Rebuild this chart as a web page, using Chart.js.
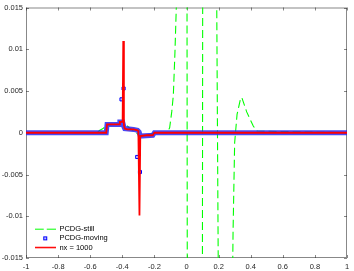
<!DOCTYPE html>
<html>
<head>
<meta charset="utf-8">
<script src="https://cdn.jsdelivr.net/npm/chart.js@4.4.1/dist/chart.umd.min.js"></script>
<style>
  html, body { margin: 0; padding: 0; background: #fff; }
  #wrap { width: 354px; height: 271px; }
</style>
</head>
<body>
<div id="wrap"><canvas id="chart"></canvas></div>
<script>
// reference solution, nx = 1000
const refX = [-1, -0.5, -0.495, -0.42, -0.415, -0.398, -0.394, -0.39, -0.385, -0.37, -0.33, -0.305, -0.3, -0.293, -0.288, -0.25, -0.21, -0.2, 1];
const refY = [0, 0, 0.001, 0.001, 0.0013, 0.0013, 0.011, 0.0009, 0.0005, 0.0004, 0.0004, 0.0003, 0.0002, -0.0099, -0.0004, -0.0003, -0.0003, 0, 0];

// PCDG on moving mesh (dense squares, they read as a thick band)
const movingX = [-1, -0.5, -0.495, -0.42, -0.415, -0.398, -0.39, -0.385, -0.33, -0.305, -0.295, -0.288, -0.21, -0.2, 1];
const movingY = [0, 0, 0.001, 0.001, 0.0013, 0.0013, 0.0007, 0.0005, 0.0004, 0.0003, 0.0001, -0.0004, -0.0003, 0, 0];
// the few squares that sit inside the two spikes
const spikeX = [-0.405, -0.392, -0.307, -0.29];
const spikeY = [0.004, 0.0053, -0.0029, -0.0047];

// PCDG on still mesh, oscillates far past the axis limits
const stillX = [-1, -0.56, -0.54, -0.52, -0.5, -0.45, -0.41, -0.395, -0.38, -0.35, -0.32, -0.29, -0.25, -0.2,
  -0.12, -0.105, -0.092, -0.082, -0.072, -0.062, -0.04, 0, 0.003, 0.005, 0.015, 0.09, 0.099, 0.101, 0.11,
  0.18, 0.187, 0.199, 0.21, 0.25, 0.28, 0.29, 0.3, 0.315, 0.338, 0.345, 0.375, 0.416, 0.44, 1];
const stillY = [0, 0, 0.0003, 0.0005, 0.0009, 0.001, 0.0012, 0.0015, 0.001, 0.0005, 0.0001, -0.0004, -0.0003, 0,
  0, 0.0006, 0.0025, 0.0045, 0.0096, 0.016, 0.05, 0.1, 0.02, -0.02, -0.1, -0.1, -0.02, 0.02, 0.1,
  0.1, 0.02, -0.02, -0.1, -0.1, -0.03, -0.012, -0.0012, 0.0022, 0.0042, 0.0042, 0.0025, 0.0008, 0.0002, 0];

const xTicks = [-1, -0.8, -0.6, -0.4, -0.2, 0, 0.2, 0.4, 0.6, 0.8, 1];
const yTicks = [-0.015, -0.01, -0.005, 0, 0.005, 0.01, 0.015];

const GREEN = '#00ff00';
const BLUE = '#0000ff';
const RED = '#ff0000';
const AXIS = '#262626';

const pts = (xs, ys) => xs.map((x, i) => ({ x, y: ys[i] }));

function icon(w, h, draw) {
  const c = document.createElement('canvas');
  c.width = w;
  c.height = h;
  draw(c.getContext('2d'));
  return c;
}

const stillIcon = icon(21, 3, g => {
  g.strokeStyle = GREEN;
  g.lineWidth = 1.2;
  g.setLineDash([9, 3]);
  g.beginPath();
  g.moveTo(0, 1.5);
  g.lineTo(21, 1.5);
  g.stroke();
});
const movingIcon = icon(6, 6, g => {
  g.strokeStyle = BLUE;
  g.lineWidth = 1;
  g.fillStyle = 'rgba(120,120,255,0.5)';
  g.fillRect(1.5, 1.5, 3, 3);
  g.strokeRect(1.5, 1.5, 3, 3);
});
const refIcon = icon(21, 3, g => {
  g.strokeStyle = RED;
  g.lineWidth = 1.5;
  g.beginPath();
  g.moveTo(0, 1.5);
  g.lineTo(21, 1.5);
  g.stroke();
});

// MATLAB style box with inward ticks on all four sides
const boxAxes = {
  id: 'boxAxes',
  beforeDatasetsDraw(chart) {
    const { ctx, chartArea: a, scales: { x, y } } = chart;
    ctx.save();
    ctx.strokeStyle = 'rgba(38,38,38,0.55)';
    ctx.lineWidth = 1;
    ctx.strokeRect(a.left + 0.5, a.top + 0.5, a.right - a.left - 1, a.bottom - a.top - 1);
    ctx.beginPath();
    xTicks.forEach(v => {
      const px = Math.round(x.getPixelForValue(v)) + 0.5;
      ctx.moveTo(px, a.bottom); ctx.lineTo(px, a.bottom - 3);
      ctx.moveTo(px, a.top); ctx.lineTo(px, a.top + 3);
    });
    yTicks.forEach(v => {
      const py = Math.round(y.getPixelForValue(v)) + 0.5;
      ctx.moveTo(a.left, py); ctx.lineTo(a.left + 3, py);
      ctx.moveTo(a.right, py); ctx.lineTo(a.right - 3, py);
    });
    ctx.stroke();
    ctx.restore();
  },
  afterLayout(chart) {
    // legend sits in the lower left corner of the plot
    const lg = chart.legend, a = chart.chartArea;
    lg.left = a.left + 7;
    lg.right = lg.left + lg.width;
    lg.bottom = a.bottom - 5;
    lg.top = lg.bottom - lg.height;
  }
};

const font = { family: 'Liberation Sans, Arial, sans-serif', size: 7.5 };

new Chart(document.getElementById('chart'), {
  type: 'line',
  data: {
    datasets: [
      { label: 'nx = 1000', data: pts(refX, refY), borderColor: RED, borderWidth: 1.8, pointRadius: 0, clip: 0 },
      { label: 'spikes', data: pts(spikeX, spikeY), showLine: false, pointStyle: 'rect', pointRadius: 2.2,
        borderColor: BLUE, borderWidth: 1, backgroundColor: 'rgba(90,90,255,0.35)', clip: 0 },
      { label: 'PCDG-moving', data: pts(movingX, movingY), borderColor: 'rgba(40,40,245,0.85)', borderWidth: 5,
        pointRadius: 0, clip: 0 },
      { label: 'PCDG-still', data: pts(stillX, stillY), borderColor: GREEN, borderWidth: 1.1, borderDash: [8, 4],
        pointRadius: 0, clip: 0 }
    ]
  },
  options: {
    responsive: true,
    maintainAspectRatio: false,
    animation: false,
    layout: { padding: { left: 0, top: 4, right: 7, bottom: 0 } },
    plugins: {
      tooltip: { enabled: false },
      legend: {
        position: 'chartArea',
        align: 'end',
        labels: {
          usePointStyle: true,
          pointStyleWidth: 21,
          padding: 1.7,
          color: AXIS,
          font,
          generateLabels: () => [
            { text: 'PCDG-still', pointStyle: stillIcon, datasetIndex: 3, lineWidth: 0, strokeStyle: 'transparent', fillStyle: 'transparent' },
            { text: 'PCDG-moving', pointStyle: movingIcon, datasetIndex: 2, lineWidth: 0, strokeStyle: 'transparent', fillStyle: 'transparent' },
            { text: 'nx = 1000', pointStyle: refIcon, datasetIndex: 0, lineWidth: 0, strokeStyle: 'transparent', fillStyle: 'transparent' }
          ]
        }
      }
    },
    scales: {
      x: {
        type: 'linear',
        min: -1,
        max: 1,
        afterBuildTicks: s => { s.ticks = xTicks.map(v => ({ value: v })); },
        afterFit: s => { s.height = 13; },
        grid: { display: false, drawTicks: false },
        border: { display: false },
        ticks: { color: AXIS, font, padding: 4, maxRotation: 0, autoSkip: false,
          callback: v => String(+v.toFixed(1)) }
      },
      y: {
        type: 'linear',
        min: -0.015,
        max: 0.015,
        afterBuildTicks: s => { s.ticks = yTicks.map(v => ({ value: v })); },
        afterFit: s => { s.width = 26; },
        grid: { display: false, drawTicks: false },
        border: { display: false },
        ticks: { color: AXIS, font, padding: 3, autoSkip: false,
          callback: v => String(+v.toFixed(3)) }
      }
    }
  },
  plugins: [boxAxes]
});
</script>
</body>
</html>
